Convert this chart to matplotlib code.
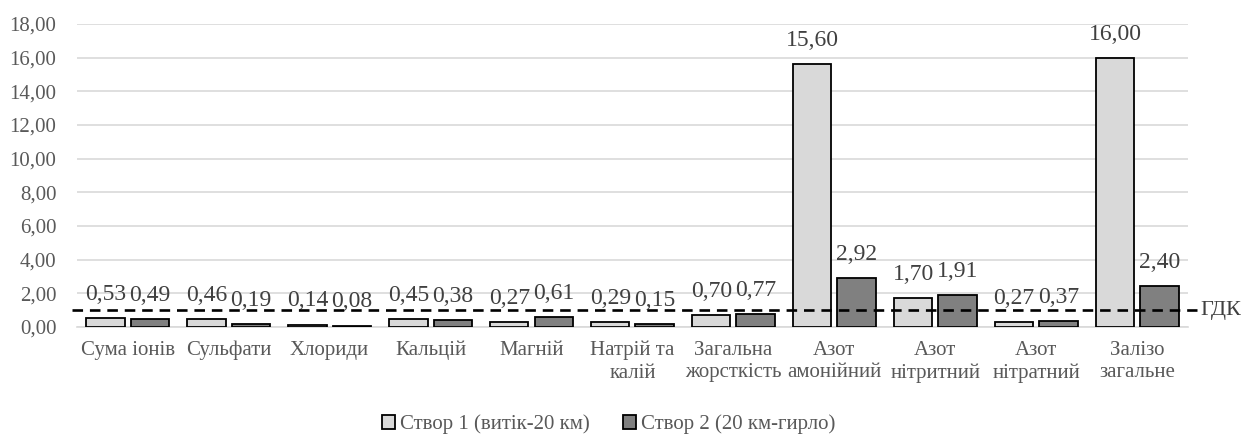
import matplotlib.pyplot as plt
import matplotlib.transforms as mtransforms
import numpy as np

plt.rcParams['font.family'] = ['Liberation Serif', 'DejaVu Serif']

categories = ['Сума іонів', 'Сульфати', 'Хлориди', 'Кальцій', 'Магній', 'Натрій та\nкалій',
              'Загальна\nжорсткість', 'Азот\nамонійний', 'Азот\nнітритний', 'Азот\nнітратний',
              'Залізо\nзагальне']
stvor1 = [0.53, 0.46, 0.14, 0.45, 0.27, 0.29, 0.70, 15.60, 1.70, 0.27, 16.00]
stvor2 = [0.49, 0.19, 0.08, 0.38, 0.61, 0.15, 0.77, 2.92, 1.91, 0.37, 2.40]
gdk = 1.0
series_names = ['Створ 1 (витік-20 км)', 'Створ 2 (20 км-гирло)']

txt = '#595959'
fig = plt.figure(figsize=(12.45, 4.37), dpi=100)
ax = fig.add_axes([0.062, 0.252, 0.892, 0.693])

x = np.arange(len(categories))
w = 0.38
gap = 0.06
b1 = ax.bar(x - (w + gap) / 2, stvor1, w, color='#d9d9d9', edgecolor='black', linewidth=1.3,
            label=series_names[0], zorder=3)
b2 = ax.bar(x + (w + gap) / 2, stvor2, w, color='#808080', edgecolor='black', linewidth=1.3,
            label=series_names[1], zorder=3)

for bars, vals in [(b1, stvor1), (b2, stvor2)]:
    for r, v in zip(bars, vals):
        ax.annotate(f'{v:.2f}'.replace('.', ','), (r.get_x() + r.get_width() / 2, v),
                    xytext=(0, 17), textcoords='offset points', ha='center', va='center',
                    fontsize=17, color='#404040', zorder=4)

# лінія ГДК
trans = mtransforms.blended_transform_factory(ax.transAxes, ax.transData)
ax.plot([-0.005, 1.008], [gdk, gdk], transform=trans, color='black', lw=1.9,
        ls=(0, (4, 2.6)), clip_on=False, zorder=5)
ax.text(1.011, gdk, 'ГДК', transform=trans, va='center', ha='left', fontsize=16, color='#404040')

ax.set_xlim(-0.5, len(categories) - 0.5)
ax.set_ylim(0, 18)
ax.set_yticks(np.arange(0, 19, 2))
ax.set_yticklabels([f'{t:.2f}'.replace('.', ',') for t in np.arange(0, 19, 2)])
ax.set_xticks(x)
ax.set_xticklabels(categories, linespacing=1.25)
ax.tick_params(axis='both', length=0, labelsize=15, labelcolor=txt)
ax.tick_params(axis='x', pad=10)
ax.tick_params(axis='y', pad=15)
ax.yaxis.grid(True, color='#d9d9d9', lw=1.2, zorder=0)
for s in ['top', 'right', 'left']:
    ax.spines[s].set_visible(False)
ax.spines['bottom'].set_color('#d9d9d9')
ax.spines['bottom'].set_linewidth(1.2)

fig.legend(loc='lower center', bbox_to_anchor=(0.489, -0.037), ncol=2, frameon=False,
           fontsize=15, labelcolor=txt, handlelength=0.6, handleheight=0.6,
           handletextpad=0.25, columnspacing=1.6)

fig.savefig('out.png', dpi=100)
